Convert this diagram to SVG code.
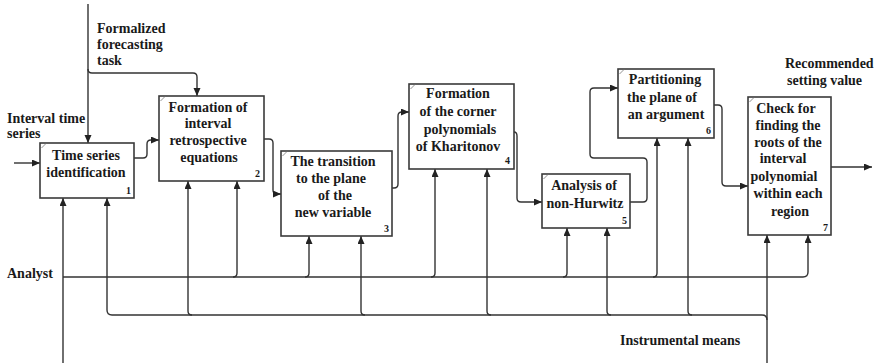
<svg xmlns="http://www.w3.org/2000/svg" width="877" height="363" viewBox="0 0 877 363" font-family="'Liberation Serif', 'Times New Roman', serif">
  <defs>
    <marker id="arr" markerUnits="userSpaceOnUse" markerWidth="9" markerHeight="8" refX="8" refY="3.5" orient="auto">
      <path d="M0,0 L8,3.5 L0,7 z" fill="#222"/>
    </marker>
    <style>
      .box { fill: #fff; stroke: #3a3a3a; stroke-width: 1.6; }
      .tick { stroke: #777; stroke-width: 0.8; }
      text { font-family: 'Liberation Serif', 'Times New Roman', serif; }
      .lbl { font-weight: bold; font-size: 14px; fill: #1a1a1a; }
      .ctr { text-anchor: middle; }
      .num { font-weight: bold; font-size: 10px; fill: #1a1a1a; text-anchor: end; }
      .ln { fill: none; stroke: #333; stroke-width: 1.4; }
      .arw { marker-end: url(#arr); }
    </style>
  </defs>
  <rect width="877" height="363" fill="#fff"/>

  <!-- free labels for inputs, controls, outputs and mechanisms -->
  <g id="labels">
    <text class="lbl" x="7" y="123">Interval time</text>
    <text class="lbl" x="7" y="138">series</text>
    <text class="lbl" x="97" y="33">Formalized</text>
    <text class="lbl" x="97" y="49">forecasting</text>
    <text class="lbl" x="97" y="65">task</text>
    <text class="lbl" x="7" y="278">Analyst</text>
    <text class="lbl" x="785" y="68">Recommended</text>
    <text class="lbl" x="787" y="85">setting value</text>
    <text class="lbl" x="620" y="345">Instrumental means</text>
  </g>

  <!-- connectors -->
  <g id="connectors">
    <!-- input and control -->
    <path class="ln arw" d="M14,163 H40"/>
    <path class="ln arw" d="M88,4 V143"/>
    <path class="ln arw" d="M88,69 Q88,73 92,73 H193 Q197,73 197,77 V96"/>
    <!-- flow between activities -->
    <path class="ln arw" d="M134,158 H143 Q147,158 147,154 V144 Q147,140 151,140 H159"/>
    <path class="ln arw" d="M264,139 H269 Q273,139 273,143 V190 Q273,194 277,194 H281"/>
    <path class="ln arw" d="M392,188 H394 Q398,188 398,184 V116 Q398,112 402,112 H409"/>
    <path class="ln arw" d="M514,132 Q517,132 517,136 V198 Q517,202 521,202 H542"/>
    <path class="ln arw" d="M630,202 H643 Q647,202 647,198 V162 Q647,158 643,158 H594 Q590,158 590,154 V92 Q590,88 594,88 H618"/>
    <path class="ln arw" d="M714,105 H718 Q722,105 722,109 V182 Q722,186 726,186 H748"/>
    <path class="ln arw" d="M831,167 H872"/>
    <!-- Analyst -->
    <path class="ln arw" d="M63,363 V198"/>
    <path class="ln arw" d="M63,277 H803 Q808,277 808,272 V235"/>
    <path class="ln arw" d="M233,277 Q237,277 237,273 V181"/>
    <path class="ln arw" d="M305,277 Q309,277 309,273 V236"/>
    <path class="ln arw" d="M431,277 Q435,277 435,273 V169"/>
    <path class="ln arw" d="M563,277 Q567,277 567,273 V228"/>
    <path class="ln arw" d="M653,277 Q657,277 657,273 V138"/>
    <!-- Instrumental means -->
    <path class="ln arw" d="M767,363 V235"/>
    <path class="ln" d="M112,315 H762 Q767,315 767,320"/>
    <path class="ln arw" d="M112,315 Q107,315 107,310 V198"/>
    <path class="ln arw" d="M192,315 Q188,315 188,311 V181"/>
    <path class="ln arw" d="M365,315 Q361,315 361,311 V236"/>
    <path class="ln arw" d="M491,315 Q487,315 487,311 V169"/>
    <path class="ln arw" d="M611,315 Q607,315 607,311 V228"/>
    <path class="ln arw" d="M692,315 Q688,315 688,311 V138"/>
  </g>

  <!-- activity 1 -->
  <g id="node1">
    <rect class="box" x="40" y="143" width="94" height="55"/>
    <line class="tick" x1="41.5" y1="148" x2="46" y2="143.5"/>
    <text class="lbl ctr" x="86" y="160">Time series</text>
    <text class="lbl ctr" x="86" y="177">identification</text>
    <text class="num" x="131" y="194">1</text>
  </g>

  <!-- activity 2 -->
  <g id="node2">
    <rect class="box" x="159" y="96" width="105" height="85"/>
    <line class="tick" x1="160.5" y1="101" x2="165" y2="96.5"/>
    <text class="lbl ctr" x="208" y="112">Formation of</text>
    <text class="lbl ctr" x="208" y="128">interval</text>
    <text class="lbl ctr" x="208" y="145">retrospective</text>
    <text class="lbl ctr" x="209" y="162">equations</text>
    <text class="num" x="260" y="177">2</text>
  </g>

  <!-- activity 3 -->
  <g id="node3">
    <rect class="box" x="281" y="151" width="111" height="85"/>
    <line class="tick" x1="282.5" y1="156" x2="287" y2="151.5"/>
    <text class="lbl ctr" x="333" y="166">The transition</text>
    <text class="lbl ctr" x="331" y="183">to the plane</text>
    <text class="lbl ctr" x="335" y="200">of the</text>
    <text class="lbl ctr" x="333" y="217">new variable</text>
    <text class="num" x="389" y="232">3</text>
  </g>

  <!-- activity 4 -->
  <g id="node4">
    <rect class="box" x="409" y="84" width="105" height="85"/>
    <line class="tick" x1="410.5" y1="89" x2="415" y2="84.5"/>
    <text class="lbl ctr" x="458" y="98">Formation</text>
    <text class="lbl ctr" x="458" y="116">of the corner</text>
    <text class="lbl ctr" x="460" y="134">polynomials</text>
    <text class="lbl ctr" x="458" y="151">of Kharitonov</text>
    <text class="num" x="510" y="164">4</text>
  </g>

  <!-- activity 5 -->
  <g id="node5">
    <rect class="box" x="542" y="174" width="88" height="54"/>
    <line class="tick" x1="543.5" y1="179" x2="548" y2="174.5"/>
    <text class="lbl ctr" x="584" y="190">Analysis of</text>
    <text class="lbl ctr" x="585" y="208">non-Hurwitz</text>
    <text class="num" x="627" y="224">5</text>
  </g>

  <!-- activity 6 -->
  <g id="node6">
    <rect class="box" x="618" y="69" width="96" height="69"/>
    <line class="tick" x1="619.5" y1="74" x2="624" y2="69.5"/>
    <text class="lbl ctr" x="665" y="84">Partitioning</text>
    <text class="lbl ctr" x="662" y="102">the plane of</text>
    <text class="lbl ctr" x="666" y="119">an argument</text>
    <text class="num" x="711" y="134">6</text>
  </g>

  <!-- activity 7 -->
  <g id="node7">
    <rect class="box" x="748" y="97" width="83" height="138"/>
    <line class="tick" x1="749.5" y1="102" x2="754" y2="97.5"/>
    <text class="lbl ctr" x="786" y="113">Check for</text>
    <text class="lbl ctr" x="788" y="130">finding the</text>
    <text class="lbl ctr" x="788" y="147">roots of the</text>
    <text class="lbl ctr" x="783" y="163">interval</text>
    <text class="lbl ctr" x="784" y="181">polynomial</text>
    <text class="lbl ctr" x="788" y="198">within each</text>
    <text class="lbl ctr" x="790" y="216">region</text>
    <text class="num" x="828" y="231">7</text>
  </g>
</svg>
